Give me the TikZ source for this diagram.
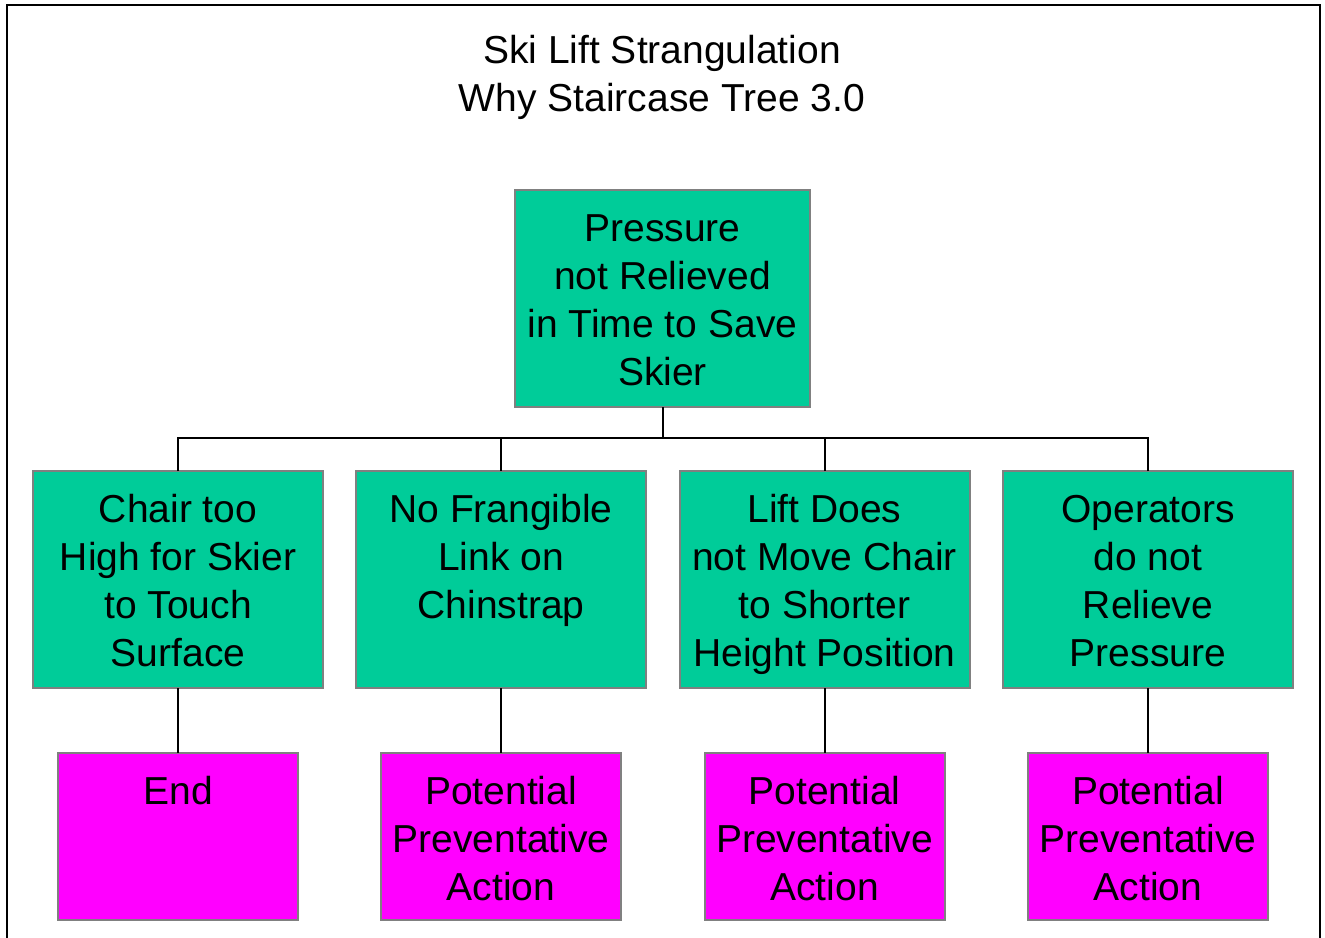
\documentclass[tikz,border=0pt]{standalone}
\usepackage{fontspec}
\setmainfont{Liberation Sans}
\definecolor{boxgreen}{RGB}{0,204,153}
\definecolor{boxmag}{RGB}{255,0,255}
\definecolor{boxgray}{RGB}{128,128,128}
\begin{document}
\begin{tikzpicture}[x=1pt,y=-1pt,
  gbox/.style={draw=boxgray,line width=2pt,fill=boxgreen,inner sep=0pt,outer sep=0pt,anchor=north,minimum width=290pt,minimum height=217pt},
  mbox/.style={draw=boxgray,line width=2pt,fill=boxmag,inner sep=0pt,outer sep=0pt,anchor=north,minimum width=240pt,minimum height=167pt},
  btext/.style={anchor=base,align=center,inner sep=0pt,font=\fontsize{39}{48}\selectfont},
  conn/.style={draw=black,line width=2pt}]
\useasboundingbox (0,0) rectangle (1325,937);
\draw[line width=2pt] (7,960) -- (7,5) -- (1320,5) -- (1320,960);
\node[btext] (title) at (662,111) {Ski Lift Strangulation\\Why Staircase Tree 3.0};
% top
\node[gbox,minimum width=295pt] (top) at (662.5,190) {};
\node[btext] (ttop) at ([yshift=-195pt]top.north) {Pressure\\not Relieved\\in Time to Save\\Skier};
% row 2
\node[gbox] (c1) at (178,471) {};
\node[gbox] (c2) at (501,471) {};
\node[gbox] (c3) at (824.5,471) {};
\node[gbox] (c4) at (1148,471) {};
\node[btext] (tc1) at ([yshift=-195pt]c1.north) {Chair too\\High for Skier\\to Touch\\Surface};
\node[btext] (tc2) at ([yshift=-147pt]c2.north) {No Frangible\\Link on\\Chinstrap};
\node[btext] (tc3) at ([yshift=-195pt]c3.north) {Lift Does\\not Move Chair\\to Shorter\\Height Position};
\node[btext] (tc4) at ([yshift=-195pt]c4.north) {Operators\\do not\\Relieve\\Pressure};
% row 3
\foreach \i in {1,2,3,4}{
  \node[mbox] (d\i) at ([yshift=-65pt]c\i.south) {};
}
\node[btext] (td1) at ([yshift=-51pt]d1.north) {End};
\node[btext] (td2) at ([yshift=-147pt]d2.north) {Potential\\Preventative\\Action};
\node[btext] (td3) at ([yshift=-147pt]d3.north) {Potential\\Preventative\\Action};
\node[btext] (td4) at ([yshift=-147pt]d4.north) {Potential\\Preventative\\Action};
% connectors
\coordinate (bus) at ([yshift=-31pt]top.south);
\draw[conn] (top.south) -- (bus);
\foreach \i in {1,2,3,4}{
  \draw[conn] (c\i.north) |- (bus);
  \draw[conn] (c\i.south) -- (d\i.north);
}
\end{tikzpicture}
\end{document}
